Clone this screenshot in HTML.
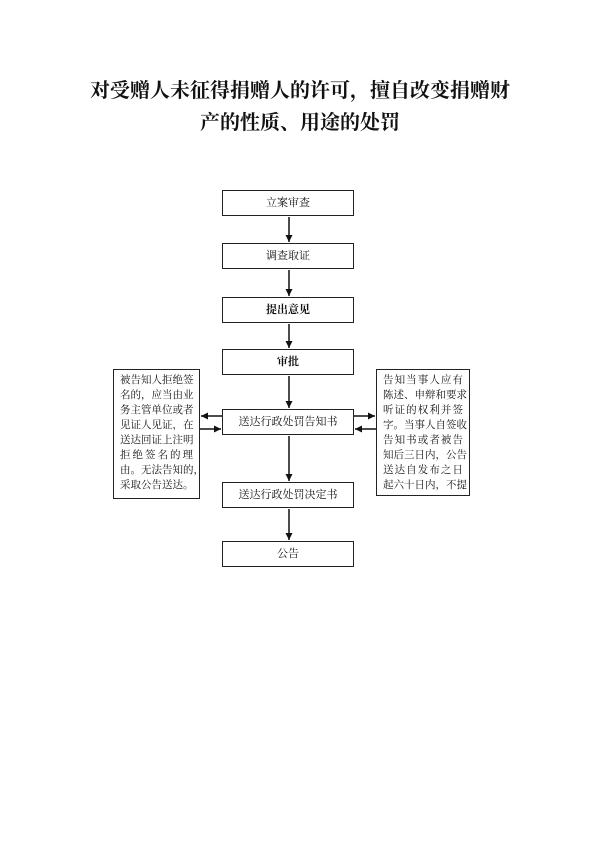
<!DOCTYPE html>
<html><head><meta charset="utf-8"><style>
body{margin:0;width:600px;height:849px;background:#fff;position:relative;font-family:"Liberation Serif","Noto Serif CJK SC",serif;color:#111;overflow:hidden}
.t{position:absolute;left:0;width:600px;text-align:center;font-weight:bold;font-size:20px;font-family:"Liberation Serif","Noto Serif CJK SC",serif}
.b{position:absolute;left:222px;width:130px;height:24px;border:1.5px solid #222;text-align:center;line-height:24px;font-size:11px}
.s{position:absolute;border:1.5px solid #222;font-size:10.5px;line-height:15px;padding:3px 6px 0 6px;box-sizing:border-box}
.s div{text-align:justify;text-align-last:justify;white-space:nowrap}
svg{position:absolute;left:0;top:0}
</style></head><body>
<div class="t" style="top:74px">对受赠人未征得捐赠人的许可，擅自改变捐赠财</div>
<div class="t" style="top:106px">产的性质、用途的处罚</div>
<div class="b" style="top:190px">立案审查</div>
<div class="b" style="top:243px">调查取证</div>
<div class="b" style="top:297px;font-weight:bold">提出意见</div>
<div class="b" style="top:349px;font-weight:bold">审批</div>
<div class="b" style="top:409px">送达行政处罚告知书</div>
<div class="b" style="top:482px">送达行政处罚决定书</div>
<div class="b" style="top:541px">公告</div>
<div class="s" style="left:113px;top:369px;width:87px;height:130px">
<div>被告知人拒绝签</div><div>名的，应当由业</div><div>务主管单位或者</div><div>见证人见证，在</div><div>送达回证上注明</div><div>拒绝签名的理</div><div>由。无法告知的，</div><div style="text-align-last:left">采取公告送达。</div></div>
<div class="s" style="left:376px;top:369px;width:94px;height:127px">
<div>告知当事人应有</div><div>陈述、申辩和要求</div><div>听证的权利并签</div><div>字。当事人自签收</div><div>告知书或者被告</div><div>知后三日内，公告</div><div>送达自发布之日</div><div>起六十日内，不提</div></div>
<svg width="600" height="849"><defs><marker id="a" markerWidth="8" markerHeight="8" refX="7" refY="4" orient="auto" markerUnits="userSpaceOnUse"><path d="M0,0.5L7,4L0,7.5z" fill="#111"/></marker></defs>
<g stroke="#111" stroke-width="1.5" fill="none">
<line x1="289" y1="217" x2="289" y2="242" marker-end="url(#a)"/>
<line x1="289" y1="270" x2="289" y2="296" marker-end="url(#a)"/>
<line x1="289" y1="324" x2="289" y2="348" marker-end="url(#a)"/>
<line x1="289" y1="376" x2="289" y2="408" marker-end="url(#a)"/>
<line x1="289" y1="436" x2="289" y2="481" marker-end="url(#a)"/>
<line x1="289" y1="509" x2="289" y2="540" marker-end="url(#a)"/>
<line x1="222" y1="416" x2="201" y2="416" marker-end="url(#a)"/>
<line x1="200" y1="429" x2="221" y2="429" marker-end="url(#a)"/>
<line x1="354" y1="416" x2="375" y2="416" marker-end="url(#a)"/>
<line x1="376" y1="429" x2="355" y2="429" marker-end="url(#a)"/>
</g></svg>
</body></html>
